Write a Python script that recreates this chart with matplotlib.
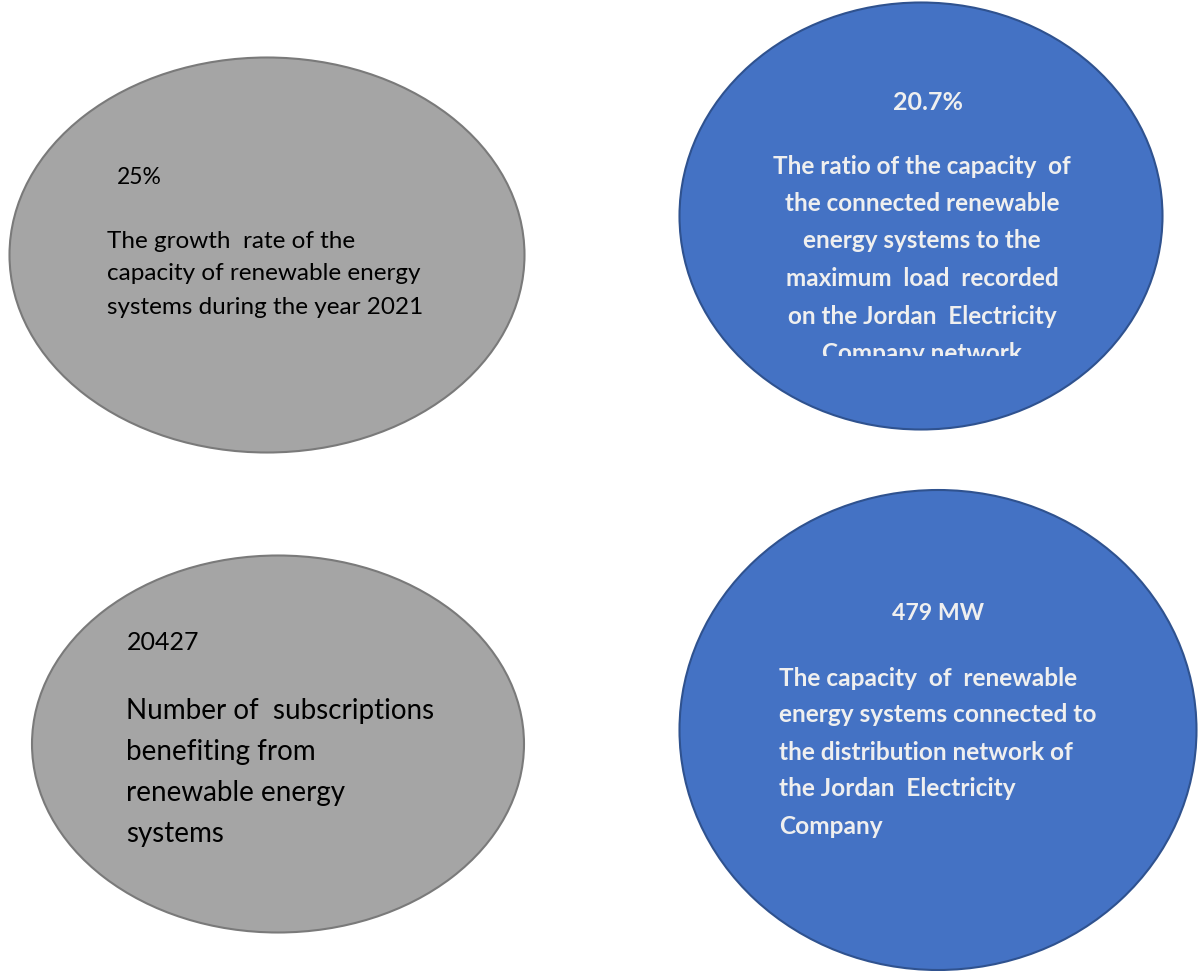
import matplotlib.pyplot as plt
from matplotlib.patches import Ellipse, Rectangle

plt.rcParams['font.family'] = ['Lato', 'DejaVu Sans']

# headline figures
values = ["25%", "20.7%", "20427", "479 MW"]

# descriptions, one list of lines per bubble
desc_growth = ["The growth  rate of the",
               "capacity of renewable energy",
               "systems during the year 2021"]
desc_ratio = ["The ratio of the capacity  of",
              "the connected renewable",
              "energy systems to the",
              "maximum  load  recorded",
              "on the Jordan  Electricity",
              "Company network"]
desc_subs = ["Number of  subscriptions",
             "benefiting from",
             "renewable energy",
             "systems"]
desc_capacity = ["The capacity  of  renewable",
                 "energy systems connected to",
                 "the distribution network of",
                 "the Jordan  Electricity",
                 "Company"]

gray = "#A5A5A5"
gray_edge = "#7A7A7A"
blue = "#4472C4"
blue_edge = "#2F528F"
white = "#EFEFEF"

fig = plt.figure(figsize=(11.98, 9.71), dpi=100)
ax = fig.add_axes([0, 0, 1, 1])
ax.set_xlim(0, 1198)
ax.set_ylim(971, 0)
ax.axis("off")

# bubbles: (cx, cy, w, h, fill, edge)
bubbles = [(267, 255, 515, 395, gray, gray_edge),
           (921, 216, 483, 427, blue, blue_edge),
           (278, 744, 492, 377, gray, gray_edge),
           (938, 730, 517, 480, blue, blue_edge)]
for cx, cy, w, h, fc, ec in bubbles:
    ax.add_patch(Ellipse((cx, cy), w, h, facecolor=fc, edgecolor=ec, lw=1.5))

# top-left
ax.text(117, 178, values[0], fontsize=16.5, color="black", va="center")
for i, line in enumerate(desc_growth):
    ax.text(107, 241 + i * 33, line, fontsize=17.5, color="black", va="center")

# top-right (text box clips the last line)
clip = Rectangle((700, 80), 440, 276, transform=ax.transData)
ax.text(928, 102, values[1], fontsize=18, color=white, weight="bold",
        ha="center", va="center")
for i, line in enumerate(desc_ratio):
    t = ax.text(922, 166 + i * 37.5, line, fontsize=17.5, color=white,
                weight="bold", ha="center", va="center", clip_on=True)
    t.set_clip_path(clip)

# bottom-left
ax.text(127, 643, values[2], fontsize=18, color="black", va="center")
for i, line in enumerate(desc_subs):
    ax.text(126, 711 + i * 41, line, fontsize=20, color="black", va="center")

# bottom-right
ax.text(938, 614, values[3], fontsize=16.7, color=white, weight="bold",
        ha="center", va="center")
for i, line in enumerate(desc_capacity):
    ax.text(779, 678 + i * 37, line, fontsize=17.6, color=white,
            weight="bold", va="center")

fig.savefig("out.png", dpi=100)
